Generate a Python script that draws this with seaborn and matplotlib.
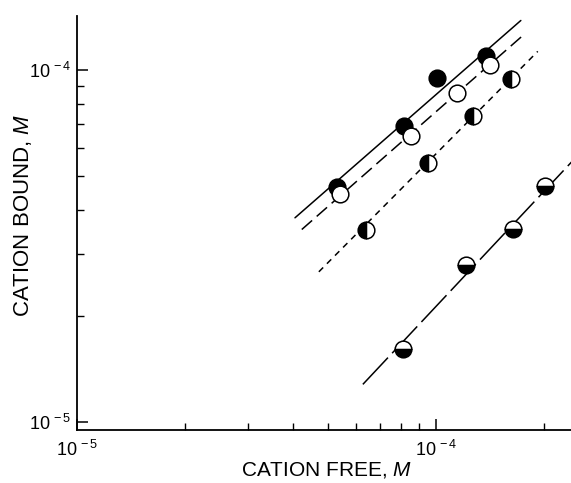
import numpy as np
import pandas as pd
import matplotlib
matplotlib.use("Agg")
import matplotlib.pyplot as plt
import seaborn as sns
from matplotlib.ticker import LogLocator, FuncFormatter, NullFormatter

# ---- data (molar) ----
filled_x = [5.30e-5, 8.15e-5, 1.006e-4, 1.38e-4]
filled_y = [4.66e-5, 6.93e-5, 9.50e-5, 1.097e-4]

open_x = [5.40e-5, 8.52e-5, 1.144e-4, 1.414e-4]
open_y = [4.45e-5, 6.50e-5, 8.56e-5, 1.028e-4]

lefthalf_x = [6.38e-5, 9.50e-5, 1.268e-4, 1.618e-4]
lefthalf_y = [3.52e-5, 5.45e-5, 7.41e-5, 9.38e-5]

bothalf_x = [8.09e-5, 1.212e-4, 1.64e-4, 2.01e-4]
bothalf_y = [1.61e-5, 2.80e-5, 3.54e-5, 4.69e-5]

# fitted lines (end points)
fit_filled_x = [4.05e-5, 1.725e-4]
fit_filled_y = [3.80e-5, 1.379e-4]
fit_open_x = [4.23e-5, 1.736e-4]
fit_open_y = [3.52e-5, 1.243e-4]
fit_left_x = [4.72e-5, 1.923e-4]
fit_left_y = [2.67e-5, 1.127e-4]
fit_bot_x = [6.26e-5, 2.40e-4]
fit_bot_y = [1.28e-5, 5.50e-5]

tick_values = [1e-5, 1e-4]
xlabel = "CATION FREE, $\\mathit{M}$"
ylabel = "CATION BOUND, $\\mathit{M}$"

sns.set_theme(style="ticks")
plt.rcParams["font.family"] = ["Liberation Sans", "DejaVu Sans"]
plt.rcParams["mathtext.fontset"] = "custom"
plt.rcParams["mathtext.rm"] = "Liberation Sans"
plt.rcParams["mathtext.it"] = "Liberation Sans:italic"
plt.rcParams["mathtext.bf"] = "Liberation Sans:bold"

fig = plt.figure(figsize=(5.71, 4.83), dpi=100)
ax = fig.add_axes([77 / 571, 1 - 430 / 483, 1 - 77 / 571, (430 - 16) / 483])
ax.set_xscale("log")
ax.set_yscale("log")

lw = 1.1
# fit lines
sns.lineplot(x=fit_filled_x, y=fit_filled_y, ax=ax, color="black", lw=lw,
             estimator=None, zorder=1)
sns.lineplot(x=fit_open_x, y=fit_open_y, ax=ax, color="black", lw=lw,
             estimator=None, zorder=1)
ax.lines[-1].set_dashes([9, 4])
sns.lineplot(x=fit_left_x, y=fit_left_y, ax=ax, color="black", lw=lw,
             estimator=None, zorder=1)
ax.lines[-1].set_dashes([4, 3.5])
sns.lineplot(x=fit_bot_x, y=fit_bot_y, ax=ax, color="black", lw=lw,
             estimator=None, zorder=1)
ax.lines[-1].set_dashes([24, 4])

ms = 12
mew = 1.1
common = dict(ax=ax, color="black", estimator=None, marker="o", linestyle="",
              markersize=ms, markeredgecolor="black", markeredgewidth=mew)

sns.lineplot(x=filled_x, y=filled_y, markerfacecolor="black", zorder=3, **common)
sns.lineplot(x=lefthalf_x, y=lefthalf_y, fillstyle="left",
             markerfacecolor="black", markerfacecoloralt="white", zorder=3, **common)
sns.lineplot(x=bothalf_x, y=bothalf_y, fillstyle="bottom",
             markerfacecolor="black", markerfacecoloralt="white", zorder=3, **common)
sns.lineplot(x=open_x, y=open_y, markerfacecolor="white", zorder=4, **common)

ax.set_xlim(1e-5, 2.38e-4)
ax.set_ylim(9.5e-6, 1.42e-4)


def fmt(v, pos=None):
    e = int(round(np.log10(v)))
    return "$10^{\\,%d}$" % e


for axis in (ax.xaxis, ax.yaxis):
    axis.set_major_locator(LogLocator(base=10))
    axis.set_minor_locator(LogLocator(base=10, subs=np.arange(2, 10)))
    axis.set_minor_formatter(NullFormatter())
ax.set_xticks(tick_values)
ax.set_yticks(tick_values)
ax.xaxis.set_major_formatter(FuncFormatter(fmt))
ax.yaxis.set_major_formatter(FuncFormatter(fmt))

ax.tick_params(which="major", direction="in", length=8, width=1.1,
               labelsize=13, color="black", labelcolor="black")
ax.tick_params(axis="y", which="major", pad=4)
ax.tick_params(axis="x", which="major", pad=7)
ax.tick_params(which="minor", direction="in", length=5, width=1.0, color="black")

sns.despine(ax=ax)
for s in ("left", "bottom"):
    ax.spines[s].set_linewidth(1.3)
    ax.spines[s].set_color("black")

ax.set_xlabel(xlabel, fontsize=15, color="black")
ax.set_ylabel(ylabel, fontsize=16, color="black")
ax.xaxis.label.set_va("center")
ax.yaxis.label.set_va("center")
ax.xaxis.set_label_coords((327 - 77) / 494, (430 - 470) / 414)
ax.yaxis.set_label_coords((23 - 77) / 494, (430 - 215) / 414)
ax.set_facecolor("white")
fig.patch.set_facecolor("white")

fig.savefig("out.png", dpi=100)
